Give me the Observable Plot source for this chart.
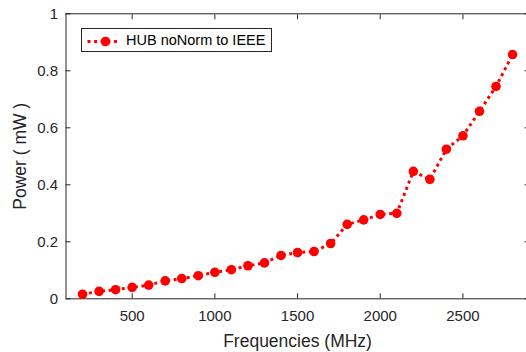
<!DOCTYPE html>
<html>
<head>
<meta charset="utf-8">
<script src="https://cdn.jsdelivr.net/npm/d3@7"></script>
<script src="https://cdn.jsdelivr.net/npm/@observablehq/plot@0.6"></script>
<style>
  body { margin: 0; background: #fff; }
  #chart { position: relative; width: 526px; height: 352px; overflow: hidden;
           font-family: "Liberation Sans", Arial, Helvetica, sans-serif; color: #262626; }
  #chart svg { display: block; }
  .legend { position: absolute; left: 81px; top: 28px; width: 191px; height: 24px;
            box-sizing: border-box; border: 1px solid #262626; background: #fff; }
  .legend svg { position: absolute; left: 0; top: 0; }
  .legend span { position: absolute; left: 44px; top: 3px; font-size: 14.5px; color: #000; white-space: nowrap; }
</style>
</head>
<body>
<div id="chart"></div>
<script>
// Measured output power across the frequency sweep
const freqs = [200, 300, 400, 500, 600, 700, 800, 900, 1000, 1100, 1200, 1300, 1400,
               1500, 1600, 1700, 1800, 1900, 2000, 2100, 2200, 2300, 2400, 2500, 2600, 2700, 2800];
const power = [0.016, 0.026, 0.032, 0.040, 0.048, 0.063, 0.071, 0.081, 0.093, 0.102, 0.116, 0.126, 0.152,
               0.162, 0.166, 0.194, 0.261, 0.277, 0.296, 0.300, 0.447, 0.419, 0.525, 0.572, 0.658, 0.745, 0.857];
const seriesName = "HUB noNorm to IEEE";

const xDomain = [100, 2900];
const yDomain = [0, 1];
const xTicks = [500, 1000, 1500, 2000, 2500];
const xTickLabels = ["500", "1000", "1500", "2000", "2500"];
const yTicks = [0, 0.2, 0.4, 0.6, 0.8, 1];
const yTickLabels = ["0", "0.2", "0.4", "0.6", "0.8", "1"];

const rows = freqs.map((f, i) => ({freq: f, power: power[i]}));
const axisColor = "#262626";
const red = "#ff0000";

const plot = Plot.plot({
  width: 526,
  height: 352,
  marginLeft: 65.5,
  marginRight: -2.6,
  marginTop: 13.3,
  marginBottom: 53.7,
  style: {fontFamily: "'Liberation Sans', Arial, Helvetica, sans-serif", fontSize: "15px", color: axisColor, background: "white"},
  x: {domain: xDomain},
  y: {domain: yDomain},
  marks: [
    // box outline
    Plot.ruleX([xDomain[0], xDomain[1]], {stroke: axisColor}),
    Plot.ruleY(yDomain, {stroke: axisColor}),
    // inward tick marks on all four sides
    Plot.axisX(xTicks, {anchor: "bottom", tickSize: -5, fill: "none", stroke: axisColor, label: null}),
    Plot.axisX(xTicks, {anchor: "top", tickSize: -5, fill: "none", stroke: axisColor, label: null}),
    Plot.axisY(yTicks, {anchor: "left", tickSize: -5, fill: "none", stroke: axisColor, label: null}),
    Plot.axisY(yTicks, {anchor: "right", tickSize: -5, fill: "none", stroke: axisColor, label: null}),
    // tick labels
    Plot.axisX(xTicks, {anchor: "bottom", tickSize: 0, tickPadding: 12, fill: axisColor, fontSize: 15, label: null,
                        tickFormat: (d) => xTickLabels[xTicks.indexOf(d)]}),
    Plot.axisY(yTicks, {anchor: "left", tickSize: 0, tickPadding: 8, fill: axisColor, fontSize: 15, label: null,
                        tickFormat: (d) => yTickLabels[yTicks.indexOf(d)]}),
    // axis titles
    Plot.axisX(xTicks, {anchor: "bottom", tickSize: 0, fill: axisColor, fontSize: 17.5, tickFormat: () => "",
                        label: "Frequencies (MHz)", labelAnchor: "center", labelArrow: "none", labelOffset: 48}),
    Plot.axisY(yTicks, {anchor: "left", tickSize: 0, fill: axisColor, fontSize: 17.5, tickFormat: () => "",
                        label: "Power ( mW )", labelAnchor: "center", labelArrow: "none", labelOffset: 52}),
    // the series: dotted line with filled circle markers
    Plot.line(rows, {x: "freq", y: "power", stroke: red, strokeWidth: 3, strokeDasharray: "3,3.6", strokeLinecap: "butt"}),
    Plot.dot(rows, {x: "freq", y: "power", r: 4.8, fill: red, stroke: "none"})
  ]
});

const chart = document.getElementById("chart");
chart.appendChild(plot);

// legend box
const legend = document.createElement("div");
legend.className = "legend";
legend.innerHTML =
  `<svg width="44" height="24">
     <line x1="5.5" x2="37" y1="12.5" y2="12.5" stroke="${red}" stroke-width="3" stroke-dasharray="3,3.6"/>
     <circle cx="23.5" cy="12.5" r="4.8" fill="${red}"/>
   </svg>
   <span></span>`;
legend.querySelector("span").textContent = seriesName;
chart.appendChild(legend);
</script>
</body>
</html>
